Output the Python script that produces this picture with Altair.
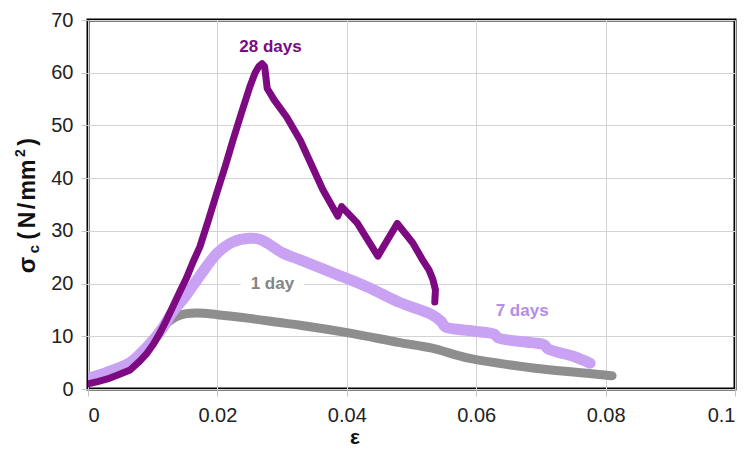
import altair as alt
import pandas as pd

# Compressive stress-strain curves at three curing ages
strain_1d = [0, 0.003, 0.0065, 0.0095, 0.012, 0.0142, 0.0168, 0.02, 0.025, 0.0297,
             0.0328, 0.0405, 0.0482, 0.053, 0.059, 0.0688, 0.0771, 0.0802, 0.081]
stress_1d = [1.7, 2.8, 4.8, 8.5, 12.3, 14.0, 14.4, 14.1, 13.4, 12.6,
             12.1, 10.6, 8.8, 7.8, 5.8, 4.0, 3.0, 2.6, 2.5]

strain_7d = [0, 0.003, 0.0065, 0.0095, 0.0115, 0.013, 0.015, 0.0173, 0.02, 0.0224,
             0.025, 0.0265, 0.0277, 0.0301, 0.0328, 0.0379, 0.0431, 0.0482, 0.053,
             0.0546, 0.0552, 0.0595, 0.0628, 0.0634, 0.0685, 0.0705, 0.0711, 0.075, 0.0776]
stress_7d = [2.0, 3.2, 5.0, 8.5, 11.5, 14.5, 17.5, 21.5, 25.8, 27.9,
             28.6, 28.4, 27.7, 25.8, 24.5, 22.0, 19.4, 16.4, 14.2,
             12.8, 11.8, 11.0, 10.4, 9.7, 8.8, 8.4, 7.6, 6.2, 4.9]

strain_28d = [0, 0.0015, 0.003, 0.0045, 0.0065, 0.008, 0.009, 0.0101, 0.0111, 0.0121,
              0.0131, 0.0141, 0.0152, 0.0162, 0.0173, 0.0186, 0.0199, 0.0212, 0.0224,
              0.0237, 0.025, 0.0258, 0.0264, 0.0269, 0.0273, 0.0277, 0.0288, 0.0307,
              0.0328, 0.0363, 0.0386, 0.0392, 0.0416, 0.0448, 0.0478, 0.0502, 0.0518,
              0.0527, 0.0533, 0.0537, 0.0536]
stress_28d = [1.0, 1.4, 1.9, 2.6, 3.6, 5.3, 6.6, 8.5, 10.6, 13.0,
              15.6, 18.2, 21.0, 24.0, 27.0, 32.0, 37.2, 42.2, 47.2,
              52.3, 57.3, 59.9, 61.2, 61.7, 61.2, 57.0, 54.8, 51.6,
              47.2, 37.8, 32.8, 34.6, 31.5, 25.2, 31.4, 27.7, 24.3,
              22.6, 20.8, 18.8, 16.5]

# Curve labels
label_text = ["28 days", "1 day", "7 days"]
label_strain = [0.0282, 0.0285, 0.0671]
label_stress = [64.9, 20.0, 14.8]
label_color = ["#7a0a7e", "#848484", "#b48de4"]

x_ticks = [0, 0.02, 0.04, 0.06, 0.08, 0.1]
y_ticks = [0, 10, 20, 30, 40, 50, 60, 70]

FONT = "Liberation Sans"

x_enc = alt.X("strain:Q",
              scale=alt.Scale(domain=[0, 0.1], nice=False),
              axis=alt.Axis(values=x_ticks, format=".2~f", title=None, labelPadding=9))
y_enc = alt.Y("stress:Q",
              scale=alt.Scale(domain=[0, 70], nice=False),
              axis=alt.Axis(values=y_ticks, title=None, labelPadding=8))


def series_df(xs, ys):
    return pd.DataFrame({"strain": xs, "stress": ys, "order": list(range(len(xs)))})


def curve(xs, ys, color, width, interp):
    return alt.Chart(series_df(xs, ys)).mark_line(
        color=color, strokeWidth=width, strokeCap="round", strokeJoin="round",
        interpolate=interp, clip=True
    ).encode(x=x_enc, y=y_enc, order="order:Q")


line_1d = curve(strain_1d, stress_1d, "#8e8e8e", 9, "catmull-rom")
line_7d = curve(strain_7d, stress_7d, "#c9a2f4", 11, "catmull-rom")
line_28d = curve(strain_28d, stress_28d, "#7d0a80", 7, "linear")

# white patch behind the "1 day" label so the grid line breaks around it
patch = alt.Chart(pd.DataFrame({"strain": [0.0236], "strain2": [0.0334],
                                "stress": [18.4], "stress2": [21.6]})).mark_rect(
    color="white"
).encode(x=x_enc, x2="strain2:Q", y=y_enc, y2="stress2:Q")

labels = alt.Chart(pd.DataFrame({"strain": label_strain, "stress": label_stress,
                                 "text": label_text, "col": label_color})).mark_text(
    font=FONT, fontSize=17, fontWeight="bold", baseline="middle", align="center"
).encode(x=x_enc, y=y_enc, text="text:N", color=alt.Color("col:N", scale=None))


def free_text(txt, px, py, size, angle=270):
    return alt.Chart(pd.DataFrame({"t": [txt]})).mark_text(
        font=FONT, fontSize=size, fontWeight="bold", angle=angle,
        align="center", baseline="alphabetic", color="#111111"
    ).encode(x=alt.value(px), y=alt.value(py), text="t:N")


# y-axis title: sigma with subscript c, unit with superscript 2
y_title = [
    free_text("σ", -53, 245, 24),
    free_text("c", -49, 229, 15),
    free_text("(", -53, 216, 23),
    free_text("N", -53, 200, 23),
    free_text("/", -53, 186, 23),
    free_text("mm", -53, 160, 23),
    free_text("2", -63, 133, 14),
    free_text(")", -53, 122, 23),
]
x_title = free_text("ε", 267, 424, 21, angle=0)

chart = alt.layer(line_1d, line_7d, line_28d, patch, labels, *y_title, x_title).properties(
    width=647, height=369,
    padding={"left": 88, "top": 20, "right": 10, "bottom": 60},
    autosize="none",
    background="white",
).configure_view(
    stroke="black", strokeWidth=3
).configure_axis(
    domain=False, grid=True, gridColor="#d3d3d3", gridWidth=1,
    tickColor="#c4c4c4", tickSize=7,
    labelFont=FONT, labelFontSize=20, labelColor="#222222",
)

chart.save("out.html", embed_options={"renderer": "svg", "actions": False})
